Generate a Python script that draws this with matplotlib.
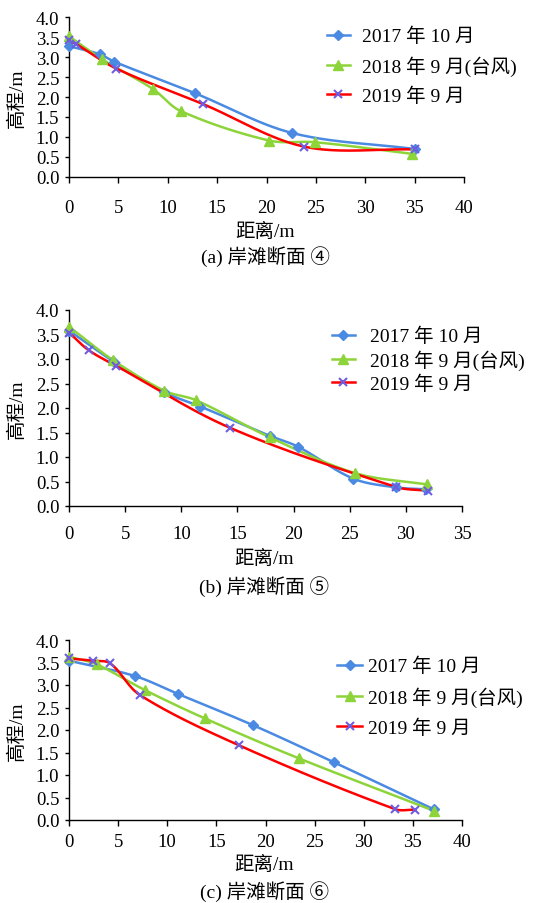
import numpy as np
import matplotlib
matplotlib.use("Agg")
import matplotlib.pyplot as plt
from matplotlib.lines import Line2D

plt.rcParams['font.family'] = ['Liberation Serif', 'Noto Sans CJK SC', 'DejaVu Sans']

series_labels = ["2017 年 10 月", "2018 年 9 月(台风)", "2019 年 9 月"]
captions = ["(a) 岸滩断面 ④", "(b) 岸滩断面 ⑤", "(c) 岸滩断面 ⑥"]
x_label = "距离/m"
y_label = "高程/m"

# Panel (a)
a_x17 = [0, 3.1, 4.6, 12.8, 22.6, 35.0]
a_y17 = [3.27, 3.07, 2.88, 2.09, 1.10, 0.70]
a_x18 = [0, 3.3, 8.5, 11.3, 20.3, 24.9, 34.7]
a_y18 = [3.52, 2.95, 2.20, 1.65, 0.91, 0.87, 0.58]
a_x19 = [0, 0.7, 4.8, 13.6, 23.8, 35.0]
a_y19 = [3.43, 3.33, 2.71, 1.82, 0.76, 0.69]

# Panel (b)
b_x17 = [0, 3.9, 8.5, 11.7, 17.9, 20.4, 25.3, 29.1, 31.8]
b_y17 = [3.58, 2.96, 2.32, 2.03, 1.43, 1.21, 0.56, 0.38, 0.34]
b_x18 = [0, 3.9, 8.5, 11.3, 17.9, 25.5, 31.9]
b_y18 = [3.66, 2.98, 2.35, 2.16, 1.40, 0.67, 0.44]
b_x19 = [0, 1.75, 4.2, 14.3, 29.1, 32.0]
b_y19 = [3.54, 3.18, 2.86, 1.60, 0.39, 0.31]

# Panel (c)
c_x17 = [0, 6.7, 11.1, 18.7, 27.0, 37.1]
c_y17 = [3.54, 3.20, 2.80, 2.11, 1.28, 0.24]
c_x18 = [0, 2.8, 7.7, 13.8, 23.4, 37.2]
c_y18 = [3.63, 3.46, 2.89, 2.26, 1.37, 0.20]
c_x19 = [0, 2.4, 4.2, 7.2, 17.3, 33.2, 35.2]
c_y19 = [3.59, 3.54, 3.48, 2.78, 1.66, 0.24, 0.23]

x_max = [40, 35, 40]

BLUE = '#4a8ae2'
GREEN = '#8dd43a'
RED = '#ff0000'
PURPLE = '#6f5ce0'


def smooth(xs, ys, xmax, ymax, aspect, n=40):
    """Excel-like smoothed line: cubic Bezier segments whose tangents are
    scaled by the neighbouring segment lengths (computed in screen-like space)."""
    X = np.asarray(xs, float) / xmax
    Y = np.asarray(ys, float) / ymax * aspect
    P = np.column_stack([X, Y])
    m = len(P)
    out = []
    t = np.linspace(0, 1, n)[:, None]
    for i in range(m - 1):
        p1, p2 = P[i], P[i + 1]
        p0 = P[i - 1] if i > 0 else p1
        p3 = P[i + 2] if i + 2 < m else p2
        d01 = np.linalg.norm(p1 - p0)
        d12 = np.linalg.norm(p2 - p1)
        d23 = np.linalg.norm(p3 - p2)
        T1 = (p2 - p0) / (d01 + d12) if d01 + d12 > 0 else np.zeros(2)
        T2 = (p3 - p1) / (d12 + d23) if d12 + d23 > 0 else np.zeros(2)
        c1 = p1 + T1 * d12 / 3.0
        c2 = p2 - T2 * d12 / 3.0
        seg = ((1 - t) ** 3) * p1 + 3 * ((1 - t) ** 2) * t * c1 + 3 * (1 - t) * t ** 2 * c2 + t ** 3 * p2
        out.append(seg if i == 0 else seg[1:])
    out = np.vstack(out)
    return out[:, 0] * xmax, out[:, 1] / aspect * ymax


fig = plt.figure(figsize=(5.46, 9.04), dpi=100)
W, H = 546, 904

panels = [
    dict(box=(69, 18, 464, 178), data=[(a_x17, a_y17), (a_x18, a_y18), (a_x19, a_y19)],
         xpad=12, xlab_y=232, cap_y=257, leg=(327, 28), lspace=0.53, hl=1.18, htp=0.62),
    dict(box=(69, 311, 462, 507), data=[(b_x17, b_y17), (b_x18, b_y18), (b_x19, b_y19)],
         xpad=10, xlab_y=559, cap_y=587, leg=(332, 328), lspace=0.22, hl=1.18, htp=0.77),
    dict(box=(69, 641, 462, 821), data=[(c_x17, c_y17), (c_x18, c_y18), (c_x19, c_y19)],
         xpad=5.5, xlab_y=865, cap_y=892, leg=(337, 658), lspace=0.58, hl=1.29, htp=0.31),
]

styles = [dict(color=BLUE, marker='D', ms=5, mfc=BLUE, mec=BLUE),
          dict(color=GREEN, marker='^', ms=7, mfc=GREEN, mec=GREEN),
          dict(color=RED, marker='x', ms=6, mfc=PURPLE, mec=PURPLE, mew=1.5)]

for k, p in enumerate(panels):
    l, t, r, b = p['box']
    ax = fig.add_axes([l / W, 1 - b / H, (r - l) / W, (b - t) / H])
    xm = x_max[k]
    aspect = (b - t) / (r - l)
    for (xs, ys), st in zip(p['data'], styles):
        sx, sy = smooth(xs, ys, xm, 4.0, aspect)
        ax.plot(sx, sy, color=st['color'], lw=1.8, zorder=2, clip_on=False)
        ax.plot(xs, ys, ls='none', marker=st['marker'], ms=st['ms'], mfc=st['mfc'],
                mec=st['mec'], mew=st.get('mew', 1), zorder=3, clip_on=False)
    ax.set_xlim(0, xm)
    ax.set_ylim(0, 4.0)
    ax.set_xticks(np.arange(0, xm + 1, 5))
    ax.set_yticks(np.arange(0, 4.01, 0.5))
    ax.set_yticklabels([f"{v:.1f}" for v in np.arange(0, 4.01, 0.5)])
    for s in ['top', 'right']:
        ax.spines[s].set_visible(False)
    for s in ['left', 'bottom']:
        ax.spines[s].set_linewidth(1.0)
    ax.tick_params(axis='x', direction='out', length=4, width=1, pad=p['xpad'], labelsize=13.5)
    ax.tick_params(axis='y', direction='out', length=3, width=1, pad=4, labelsize=13.5)
    fig.text(17 / W, 1 - ((t + b) / 2) / H, y_label, rotation=90, ha='center', va='center', fontsize=14)
    fig.text(((l + r) / 2 - 1) / W, 1 - p['xlab_y'] / H, x_label, ha='center', va='center', fontsize=14)
    fig.text(((l + r) / 2 - 1) / W, 1 - p['cap_y'] / H, captions[k], ha='center', va='center', fontsize=14)

    handles = [Line2D([], [], color=st['color'], lw=1.8, marker=st['marker'], ms=st['ms'],
                      mfc=st['mfc'], mec=st['mec'], mew=st.get('mew', 1)) for st in styles]
    fig.legend(handles, series_labels, loc='upper left',
               bbox_to_anchor=(p['leg'][0] / W, 1 - p['leg'][1] / H),
               frameon=False, fontsize=14, handlelength=p['hl'], handletextpad=p['htp'],
               labelspacing=p['lspace'], borderpad=0, borderaxespad=0)

fig.savefig('out.png', dpi=100)
